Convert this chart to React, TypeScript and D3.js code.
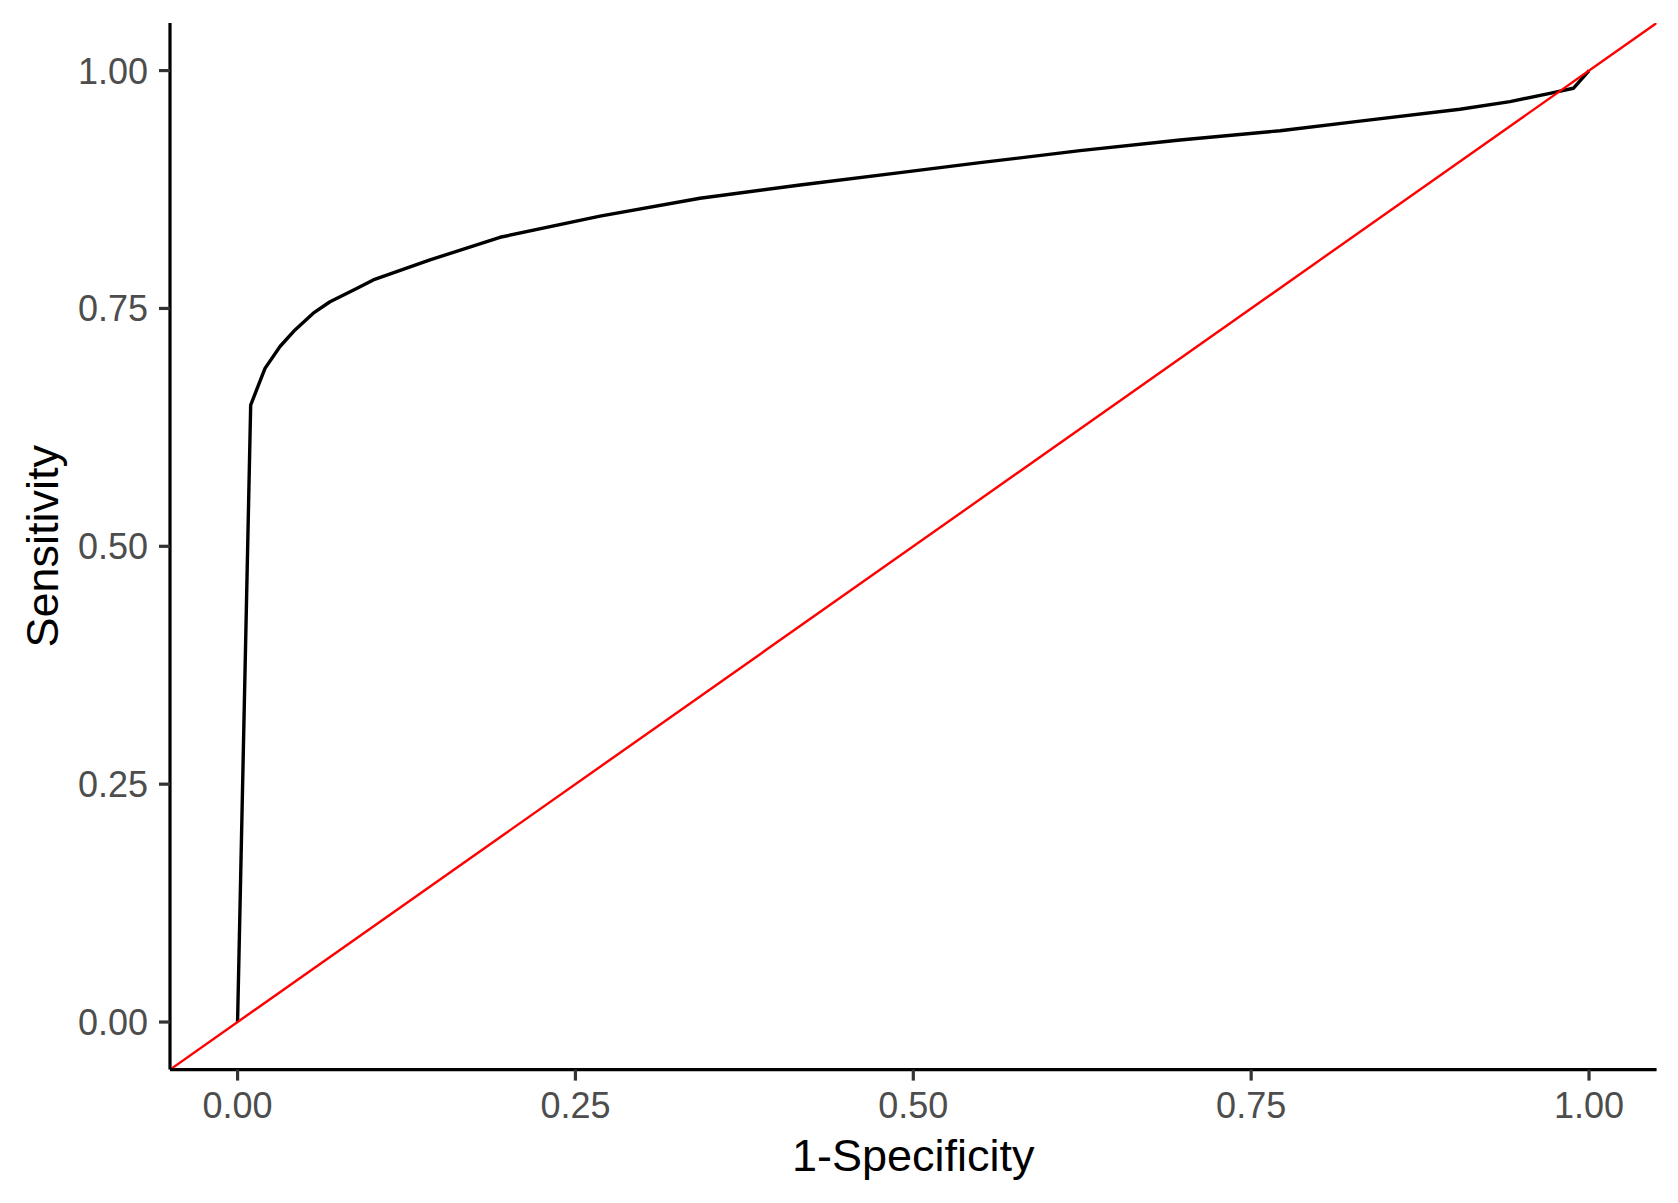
import React from "react";
import * as d3 from "d3";

const fpr = [0, 0.0097, 0.0203, 0.0314, 0.0425, 0.056, 0.0684, 0.0881, 0.1004, 0.1177, 0.1424, 0.1942, 0.2682, 0.3422, 0.4162, 0.4902, 0.5494, 0.6234, 0.6974, 0.7714, 0.8305, 0.9045, 0.9415, 0.9711, 0.9884, 1.0];
const tpr = [0, 0.6485, 0.687, 0.71, 0.7274, 0.745, 0.757, 0.771, 0.78, 0.7886, 0.801, 0.8248, 0.847, 0.8658, 0.8797, 0.8927, 0.9032, 0.9158, 0.927, 0.9368, 0.9469, 0.9593, 0.9673, 0.9761, 0.9814, 1.0];
const xTicks = [0, 0.25, 0.5, 0.75, 1.0];
const yTicks = [0, 0.25, 0.5, 0.75, 1.0];
const refLine = [-0.05, 1.05];
const xTitle = "1-Specificity";
const yTitle = "Sensitivity";

const W = 1678;
const H = 1203;
const FONT = "'Liberation Sans', Arial, Helvetica, sans-serif";

export default function App() {
  const x = d3.scaleLinear().domain([-0.05, 1.05]).range([170, 1656.6]);
  const y = d3.scaleLinear().domain([-0.05, 1.05]).range([1069.6, 23]);
  const pts = fpr.map((f, i) => [f, tpr[i]] as [number, number]);
  const line = d3
    .line<[number, number]>()
    .x((d) => x(d[0]))
    .y((d) => y(d[1]));
  const fmt = d3.format(".2f");
  const [x0, x1] = x.range();
  const [y0, y1] = y.range();

  return (
    <svg
      width={W}
      height={H}
      style={{ position: "absolute", left: 0, top: 0, display: "block", background: "#fff" }}
    >
      <rect x={0} y={0} width={W} height={H} fill="#fff" />
      <defs>
        <clipPath id="panel">
          <rect x={x0} y={y1} width={x1 - x0} height={y0 - y1} />
        </clipPath>
      </defs>
      <g clipPath="url(#panel)">
        <path d={line(pts) || ""} fill="none" stroke="#000" strokeWidth={3.4} strokeLinejoin="round" />
        <line
          x1={x(refLine[0])}
          y1={y(refLine[0])}
          x2={x(refLine[1])}
          y2={y(refLine[1])}
          stroke="#ff0000"
          strokeWidth={2.4}
        />
      </g>
      {/* axes lines */}
      <line x1={x0} y1={y0} x2={x1} y2={y0} stroke="#000" strokeWidth={3.2} strokeLinecap="butt" />
      <line x1={x0} y1={y0} x2={x0} y2={y1} stroke="#000" strokeWidth={3.2} strokeLinecap="butt" />
      {/* x ticks */}
      {xTicks.map((t) => (
        <g key={"x" + t}>
          <line x1={x(t)} x2={x(t)} y1={y0} y2={y0 + 11} stroke="#333333" strokeWidth={3.2} />
          <text
            x={x(t)}
            y={1118}
            textAnchor="middle"
            fontFamily={FONT}
            fontSize={36}
            fill="#4D4D4D"
          >
            {fmt(t)}
          </text>
        </g>
      ))}
      {/* y ticks */}
      {yTicks.map((t) => (
        <g key={"y" + t}>
          <line x1={x0 - 11} x2={x0} y1={y(t)} y2={y(t)} stroke="#333333" strokeWidth={3.2} />
          <text
            x={148}
            y={y(t) + 13}
            textAnchor="end"
            fontFamily={FONT}
            fontSize={36}
            fill="#4D4D4D"
          >
            {fmt(t)}
          </text>
        </g>
      ))}
      <text
        x={(x0 + x1) / 2}
        y={1171}
        textAnchor="middle"
        fontFamily={FONT}
        fontSize={45}
        fill="#000"
      >
        {xTitle}
      </text>
      <text
        transform={`translate(58, ${(y0 + y1) / 2}) rotate(-90)`}
        textAnchor="middle"
        fontFamily={FONT}
        fontSize={45}
        fill="#000"
      >
        {yTitle}
      </text>
    </svg>
  );
}
